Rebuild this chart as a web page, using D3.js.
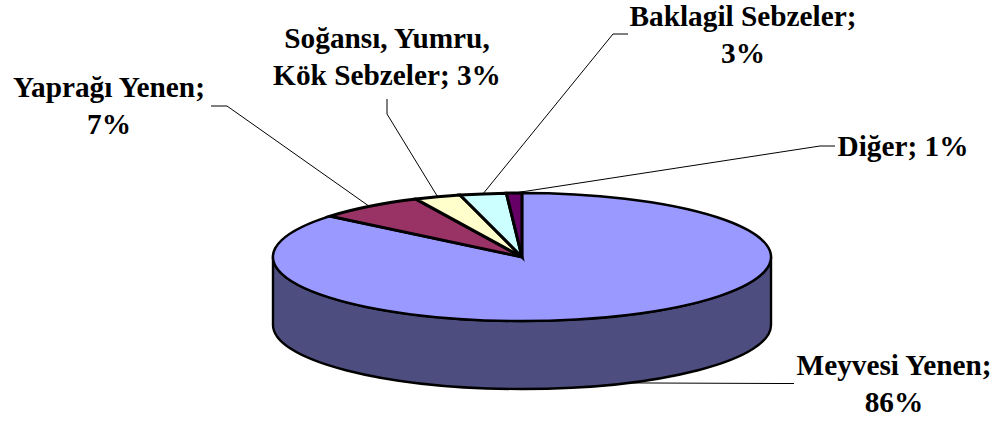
<!DOCTYPE html>
<html>
<head>
<meta charset="utf-8">
<script src="https://cdnjs.cloudflare.com/ajax/libs/d3/7.8.5/d3.min.js"></script>
<style>
  html, body { margin: 0; padding: 0; background: #fff; }
  svg { display: block; }
  .label { font-family: "Liberation Serif", serif; font-weight: bold; font-size: 29.3px; fill: #000; text-anchor: middle; }
  .leader { fill: none; stroke: #000; stroke-width: 1; }
  .slice { stroke: #000; stroke-width: 2.4; stroke-linejoin: miter; vector-effect: non-scaling-stroke; }
  .small { stroke-width: 3; }
</style>
</head>
<body>
<svg id="chart" width="1000" height="421"></svg>
<script>
var categories = ["Meyvesi Yenen", "Yaprağı Yenen", "Soğansı, Yumru, Kök Sebzeler", "Baklagil Sebzeler", "Diğer"];
var values = [86, 7, 3, 3, 1];
var labelLines = [
  ["Meyvesi Yenen;", "86%"],
  ["Yaprağı Yenen;", "7%"],
  ["Soğansı, Yumru,", "Kök Sebzeler; 3%"],
  ["Baklagil Sebzeler;", "3%"],
  ["Diğer; 1%"]
];
var colors = ["#9999ff", "#993366", "#ffffcc", "#ccffff", "#660066"];
var sideColor = "#4d4d80";

// where the labels sit and where each leader line bends
var labelPos = [[894, 375], [109, 97], [387, 48], [743, 26], [903, 156]];
var elbows = [
  [[794, 383.5], [778, 383.5]],
  [[211, 106], [227, 106]],
  [[387, 99], [387, 114]],
  [[628, 34], [613, 34]],
  [[835, 146], [820, 146]]
];

var svg = d3.select("#chart");
var cx = 522, cy = 257, rx = 249, ry = 64, depth = 68;
var lineHeight = 37;

var pie = d3.pie().sort(null).value((d) => d);
var arcs = pie(values);
var arc = d3.arc().innerRadius(0).outerRadius(rx);

// point on the top ellipse for an angle of the pie
function rim(angle) {
  return [cx + rx * Math.sin(angle), cy - ry * Math.cos(angle)];
}

// leader lines go under the pie so they stop at its edge
var leader = d3.line();
svg
  .append("g")
  .selectAll("path")
  .data(arcs)
  .enter()
  .append("path")
  .attr("class", "leader")
  .attr("d", (d, i) => {
    var end = rim((d.startAngle + d.endAngle) / 2);
    // the big slice is labelled on its side wall
    if (i == 0) end[1] += depth;
    return leader(elbows[i].concat([end]));
  });

// side wall
svg
  .append("path")
  .attr("class", "slice")
  .attr("fill", sideColor)
  .attr(
    "d",
    "M" + (cx - rx) + "," + cy +
      "A" + rx + "," + ry + " 0 0 0 " + (cx + rx) + "," + cy +
      "V" + (cy + depth) +
      "A" + rx + "," + ry + " 0 0 1 " + (cx - rx) + "," + (cy + depth) +
      "Z"
  );

// top, a flat d3 pie squashed into an ellipse
svg
  .append("g")
  .attr("transform", "translate(" + cx + "," + cy + ") scale(1," + ry / rx + ")")
  .selectAll("path")
  .data(arcs)
  .enter()
  .append("path")
  .attr("class", (d, i) => (i == 0 ? "slice" : "slice small"))
  .attr("d", arc)
  .attr("fill", (d, i) => colors[i]);

var labels = svg
  .append("g")
  .selectAll("text")
  .data(labelLines)
  .enter()
  .append("text")
  .attr("class", "label")
  .attr("transform", (d, i) => "translate(" + labelPos[i][0] + "," + labelPos[i][1] + ")");

labels
  .selectAll("tspan")
  .data((d) => d)
  .enter()
  .append("tspan")
  .attr("x", 0)
  .attr("y", (d, i) => i * lineHeight)
  .text((d) => d);
</script>
</body>
</html>
